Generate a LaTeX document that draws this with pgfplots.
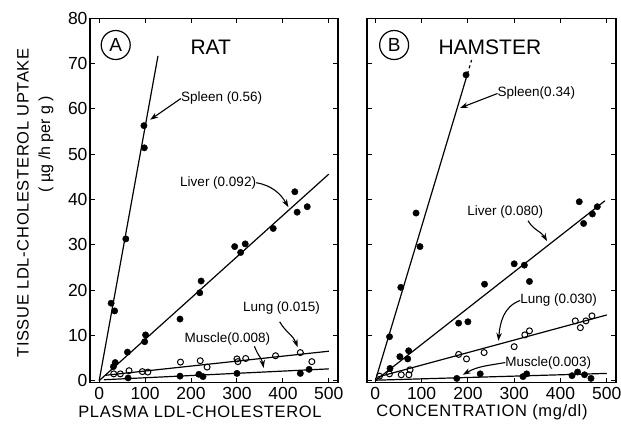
\documentclass[border=0pt]{standalone}
\usepackage{fontspec}
\setmainfont{Liberation Sans}
\newfontfamily\titlefont[LetterSpace=4]{Liberation Sans}
\usepackage{pgfplots}
\pgfplotsset{compat=1.18}
\usetikzlibrary{arrows.meta}
\pgfplotsset{
  panel/.style={
    scale only axis, height=364.4pt,
    ymin=-0.45, ymax=80,
    xtick={0,100,...,500}, ytick={0,10,...,80},
    tick align=inside, tick pos=both, major tick length=5pt,
    axis line style={line width=1.4pt},
    every tick/.style={line width=1pt, black},
    every tick label/.append style={font=\fontsize{17.5}{17.5}\selectfont},
    xticklabel style={yshift=-1pt},
    yticklabel style={xshift=1pt},
    /pgf/number format/assume math mode=true,
    clip=false,
  },
  filled/.style={only marks, mark=*, mark size=3.2pt, black},
  open/.style={only marks, mark=o, mark size=3.0pt, black, line width=1pt, mark options={fill=white}},
  fit/.style={no marks, black, line width=1.2pt},
}
\tikzset{
  arr/.style={-{Stealth[length=8pt,width=5.5pt]}, line width=1.1pt},
  lab/.style={font=\fontsize{13.5}{14}\selectfont, inner sep=0pt},
  circ/.style={circle, draw, line width=1.2pt, inner sep=0pt, minimum size=29pt, font=\fontsize{19}{19}\selectfont},
}
\begin{document}
\begin{tikzpicture}
\useasboundingbox (0,0) rectangle (621pt,425pt);
% ---------- Panel A ----------
\begin{axis}[panel, at={(90pt,42.3pt)}, anchor=south west, width=248pt,
  xmin=-20, xmax=520]
\addplot[fit] coordinates {(0,0) (128,71.7)};
\addplot[fit] coordinates {(0,0) (500,45.6)};
\addplot[fit] coordinates {(15,1.2) (500,6.5)};
\addplot[fit] coordinates {(10,0.2) (500,2.6)};
% Spleen
\addplot[filled] coordinates {(26,17.1) (33.7,15.4) (58,31.3) (97.4,56.3) (98.3,51.4)};
% Liver
\addplot[filled] coordinates {(31,3.1) (35,4.0) (61.5,6.3) (99,8.6) (101,10.1) (176,13.6) (219,19.4) (222,22.0) (295,29.6) (308,28.3) (318,30.2) (379,33.6) (426,41.7) (431,37.2) (453,38.4)};
% Lung
\addplot[open] coordinates {(31.7,1.5) (46,1.5) (65,2.2) (94,2.0) (106,1.9) (177,4.1) (220,4.4) (235,3.0) (300,4.8) (302,4.2) (319,4.9) (384,5.5) (438,6.2) (463,4.2)};
% Muscle
\addplot[filled] coordinates {(63,0.6) (176,1.0) (217,1.4) (226,0.9) (300,1.6) (438,1.6) (457,2.5)};
\node[circ] at (axis cs:36,74.1) {A};
\node[font=\fontsize{21}{21}\selectfont] at (axis cs:243,73.7) {RAT};
\node[lab, anchor=west] (sp) at (axis cs:178,62.3) {Spleen (0.56)};
\draw[arr] (sp.west) -- (axis cs:111,57.6);
\node[lab] (lv) at (axis cs:259,43.7) {Liver (0.092)};
\draw[arr] (lv.east) to[out=-10, in=120] (axis cs:412,38.3);
\node[lab] (lu) at (axis cs:397,16) {Lung (0.015)};
\draw[arr] (axis cs:393,13) to[out=-60, in=110] (axis cs:432,7.4);
\node[lab] (mu) at (axis cs:279,9.1) {Muscle(0.008)};
\draw[arr] (axis cs:338,7.6) to[out=-70, in=100] (axis cs:358,2.8);
\end{axis}
% ---------- Panel B ----------
\begin{axis}[panel, at={(367pt,42.3pt)}, anchor=south west, width=249pt,
  xmin=-18, xmax=520, yticklabels={}]
\addplot[fit] coordinates {(0,0) (199,67.7)};
\addplot[fit, dashed] coordinates {(199,67.7) (208,70.8)};
\addplot[fit] coordinates {(0,0) (496,39.7)};
\addplot[fit] coordinates {(5,0.8) (500,14.5)};
\addplot[fit] coordinates {(0,0.1) (500,1.6)};
% Spleen
\addplot[filled] coordinates {(30.7,9.7) (55,20.6) (88,37.0) (96.5,29.6) (196,67.5)};
% Liver
\addplot[filled] coordinates {(31.7,2.7) (53,5.3) (70,4.8) (72,6.6) (180,12.7) (200,13.0) (236,21.3) (300,25.8) (322,25.5) (333,21.9) (440.6,39.5) (450,34.7) (469,36.8) (479.6,38.4)};
% Lung
\addplot[open] coordinates {(9,1.0) (30.5,1.5) (56,1.3) (72.5,1.3) (75,2.4) (180,5.8) (197,4.8) (235,6.2) (300,7.5) (323,10.1) (333,11.0) (432,13.2) (443,11.7) (455,13.2) (468,14.3)};
% Muscle
\addplot[filled] coordinates {(176,0.5) (226.6,1.5) (319,0.9) (327,1.5) (425,1.1) (437,1.9) (452,1.3) (466,0.5)};
\node[circ] at (axis cs:40.6,74.1) {B};
\node[font=\fontsize{21}{21}\selectfont] at (axis cs:247.5,73.7) {HAMSTER};
\node[lab, anchor=west] (sp2) at (axis cs:264,63.4) {Spleen(0.34)};
\draw[arr] (sp2.west) -- (axis cs:183,60.2);
\node[lab] (lv2) at (axis cs:280.5,37.3) {Liver (0.080)};
\draw[arr] (axis cs:330,35.3) to[out=-60, in=120] (axis cs:371,30.8);
\node[lab] (lu2) at (axis cs:396,17.7) {Lung (0.030)};
\draw[arr] (lu2.west) to[out=200, in=85] (axis cs:266,8.8);
\node[lab] (mu2) at (axis cs:373.6,4.0) {Muscle(0.003)};
\draw[arr] (mu2.west) to[out=190, in=30] (axis cs:189,1.3);
\end{axis}
% ---------- Axis titles ----------
\node[rotate=90, font=\titlefont\fontsize{16.5}{16.5}\selectfont] at (23pt,222pt) {TISSUE LDL-CHOLESTEROL UPTAKE};
\node[rotate=90, font=\fontsize{16}{16}\selectfont] at (46pt,281pt) {( µg /h per g )};
\node[font=\titlefont\fontsize{16.5}{16.5}\selectfont] at (200pt,13pt) {PLASMA LDL-CHOLESTEROL};
\node[font=\titlefont\fontsize{16.5}{16.5}\selectfont] at (482pt,13pt) {CONCENTRATION (mg/dl)};
\end{tikzpicture}
\end{document}
